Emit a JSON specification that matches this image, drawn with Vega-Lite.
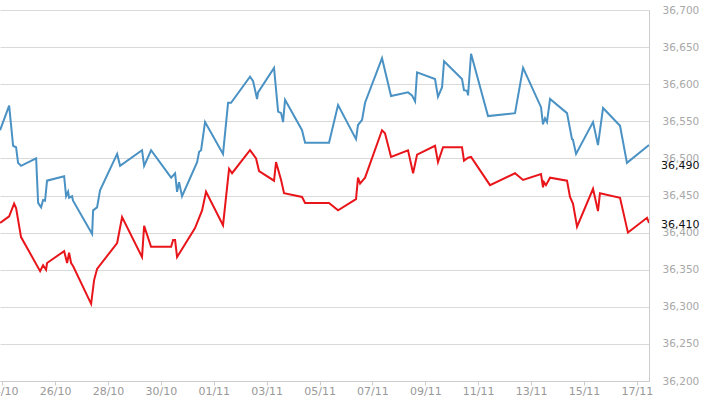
{
  "$schema": "https://vega.github.io/schema/vega-lite/v6.json",
  "width": 649,
  "height": 371,
  "autosize": {"type": "none"},
  "padding": {"left": 0, "top": 10, "right": 57, "bottom": 16},
  "background": "white",
  "config": {"view": {"stroke": null}, "font": "DejaVu Sans"},
  "datasets": {
    "prices": [
      {"time": "2023-10-23T22:06", "value": 36538, "series": "Series A"},
      {"time": "2023-10-24T06:18", "value": 36571, "series": "Series A"},
      {"time": "2023-10-24T09:54", "value": 36517, "series": "Series A"},
      {"time": "2023-10-24T12:36", "value": 36515, "series": "Series A"},
      {"time": "2023-10-24T14:24", "value": 36494, "series": "Series A"},
      {"time": "2023-10-24T17:06", "value": 36490, "series": "Series A"},
      {"time": "2023-10-25T06:48", "value": 36500, "series": "Series A"},
      {"time": "2023-10-25T08:36", "value": 36440, "series": "Series A"},
      {"time": "2023-10-25T11:18", "value": 36434, "series": "Series A"},
      {"time": "2023-10-25T13:06", "value": 36444, "series": "Series A"},
      {"time": "2023-10-25T14:54", "value": 36443, "series": "Series A"},
      {"time": "2023-10-25T16:42", "value": 36470, "series": "Series A"},
      {"time": "2023-10-26T08:12", "value": 36476, "series": "Series A"},
      {"time": "2023-10-26T10:00", "value": 36449, "series": "Series A"},
      {"time": "2023-10-26T11:48", "value": 36455, "series": "Series A"},
      {"time": "2023-10-26T12:42", "value": 36447, "series": "Series A"},
      {"time": "2023-10-26T15:24", "value": 36449, "series": "Series A"},
      {"time": "2023-10-26T16:18", "value": 36443, "series": "Series A"},
      {"time": "2023-10-27T09:36", "value": 36398, "series": "Series A"},
      {"time": "2023-10-27T10:30", "value": 36430, "series": "Series A"},
      {"time": "2023-10-27T14:06", "value": 36434, "series": "Series A"},
      {"time": "2023-10-27T16:48", "value": 36457, "series": "Series A"},
      {"time": "2023-10-28T08:18", "value": 36506, "series": "Series A"},
      {"time": "2023-10-28T11:00", "value": 36490, "series": "Series A"},
      {"time": "2023-10-29T06:54", "value": 36511, "series": "Series A"},
      {"time": "2023-10-29T08:48", "value": 36490, "series": "Series A"},
      {"time": "2023-10-29T15:06", "value": 36511, "series": "Series A"},
      {"time": "2023-10-30T09:18", "value": 36474, "series": "Series A"},
      {"time": "2023-10-30T12:54", "value": 36480, "series": "Series A"},
      {"time": "2023-10-30T14:42", "value": 36455, "series": "Series A"},
      {"time": "2023-10-30T16:30", "value": 36468, "series": "Series A"},
      {"time": "2023-10-30T19:12", "value": 36449, "series": "Series A"},
      {"time": "2023-10-31T08:54", "value": 36495, "series": "Series A"},
      {"time": "2023-10-31T10:42", "value": 36509, "series": "Series A"},
      {"time": "2023-10-31T12:30", "value": 36511, "series": "Series A"},
      {"time": "2023-10-31T16:06", "value": 36549, "series": "Series A"},
      {"time": "2023-11-01T08:24", "value": 36506, "series": "Series A"},
      {"time": "2023-11-01T13:00", "value": 36575, "series": "Series A"},
      {"time": "2023-11-01T15:42", "value": 36575, "series": "Series A"},
      {"time": "2023-11-02T08:54", "value": 36610, "series": "Series A"},
      {"time": "2023-11-02T11:42", "value": 36604, "series": "Series A"},
      {"time": "2023-11-02T15:18", "value": 36580, "series": "Series A"},
      {"time": "2023-11-02T16:12", "value": 36589, "series": "Series A"},
      {"time": "2023-11-03T06:42", "value": 36622, "series": "Series A"},
      {"time": "2023-11-03T10:24", "value": 36563, "series": "Series A"},
      {"time": "2023-11-03T13:06", "value": 36561, "series": "Series A"},
      {"time": "2023-11-03T14:54", "value": 36549, "series": "Series A"},
      {"time": "2023-11-03T16:42", "value": 36579, "series": "Series A"},
      {"time": "2023-11-04T08:06", "value": 36538, "series": "Series A"},
      {"time": "2023-11-04T10:54", "value": 36521, "series": "Series A"},
      {"time": "2023-11-05T08:36", "value": 36521, "series": "Series A"},
      {"time": "2023-11-05T16:48", "value": 36572, "series": "Series A"},
      {"time": "2023-11-06T09:06", "value": 36526, "series": "Series A"},
      {"time": "2023-11-06T10:54", "value": 36545, "series": "Series A"},
      {"time": "2023-11-06T14:36", "value": 36552, "series": "Series A"},
      {"time": "2023-11-06T17:18", "value": 36575, "series": "Series A"},
      {"time": "2023-11-07T08:42", "value": 36635, "series": "Series A"},
      {"time": "2023-11-07T16:54", "value": 36584, "series": "Series A"},
      {"time": "2023-11-08T08:18", "value": 36589, "series": "Series A"},
      {"time": "2023-11-08T11:54", "value": 36585, "series": "Series A"},
      {"time": "2023-11-08T14:42", "value": 36577, "series": "Series A"},
      {"time": "2023-11-08T16:30", "value": 36616, "series": "Series A"},
      {"time": "2023-11-09T08:48", "value": 36607, "series": "Series A"},
      {"time": "2023-11-09T11:30", "value": 36583, "series": "Series A"},
      {"time": "2023-11-09T15:12", "value": 36596, "series": "Series A"},
      {"time": "2023-11-09T17:00", "value": 36631, "series": "Series A"},
      {"time": "2023-11-10T09:18", "value": 36607, "series": "Series A"},
      {"time": "2023-11-10T11:06", "value": 36592, "series": "Series A"},
      {"time": "2023-11-10T13:48", "value": 36591, "series": "Series A"},
      {"time": "2023-11-10T14:48", "value": 36585, "series": "Series A"},
      {"time": "2023-11-10T17:30", "value": 36641, "series": "Series A"},
      {"time": "2023-11-11T08:54", "value": 36557, "series": "Series A"},
      {"time": "2023-11-12T09:24", "value": 36561, "series": "Series A"},
      {"time": "2023-11-12T16:42", "value": 36622, "series": "Series A"},
      {"time": "2023-11-13T09:00", "value": 36569, "series": "Series A"},
      {"time": "2023-11-13T10:48", "value": 36546, "series": "Series A"},
      {"time": "2023-11-13T12:36", "value": 36554, "series": "Series A"},
      {"time": "2023-11-13T14:24", "value": 36549, "series": "Series A"},
      {"time": "2023-11-13T17:12", "value": 36580, "series": "Series A"},
      {"time": "2023-11-14T08:36", "value": 36561, "series": "Series A"},
      {"time": "2023-11-14T13:06", "value": 36526, "series": "Series A"},
      {"time": "2023-11-14T14:00", "value": 36525, "series": "Series A"},
      {"time": "2023-11-14T16:48", "value": 36506, "series": "Series A"},
      {"time": "2023-11-15T08:12", "value": 36549, "series": "Series A"},
      {"time": "2023-11-15T12:42", "value": 36518, "series": "Series A"},
      {"time": "2023-11-15T17:18", "value": 36568, "series": "Series A"},
      {"time": "2023-11-16T08:42", "value": 36544, "series": "Series A"},
      {"time": "2023-11-16T15:00", "value": 36494, "series": "Series A"},
      {"time": "2023-11-17T11:00", "value": 36518, "series": "Series A"},
      {"time": "2023-10-23T22:06", "value": 36413, "series": "Series B"},
      {"time": "2023-10-24T06:18", "value": 36422, "series": "Series B"},
      {"time": "2023-10-24T10:48", "value": 36439, "series": "Series B"},
      {"time": "2023-10-24T12:36", "value": 36433, "series": "Series B"},
      {"time": "2023-10-24T17:06", "value": 36394, "series": "Series B"},
      {"time": "2023-10-25T10:24", "value": 36348, "series": "Series B"},
      {"time": "2023-10-25T13:06", "value": 36356, "series": "Series B"},
      {"time": "2023-10-25T15:48", "value": 36350, "series": "Series B"},
      {"time": "2023-10-25T16:42", "value": 36359, "series": "Series B"},
      {"time": "2023-10-26T08:12", "value": 36375, "series": "Series B"},
      {"time": "2023-10-26T10:54", "value": 36359, "series": "Series B"},
      {"time": "2023-10-26T12:42", "value": 36373, "series": "Series B"},
      {"time": "2023-10-26T14:30", "value": 36359, "series": "Series B"},
      {"time": "2023-10-26T16:18", "value": 36355, "series": "Series B"},
      {"time": "2023-10-27T08:42", "value": 36304, "series": "Series B"},
      {"time": "2023-10-27T11:24", "value": 36336, "series": "Series B"},
      {"time": "2023-10-27T14:06", "value": 36351, "series": "Series B"},
      {"time": "2023-10-28T08:18", "value": 36386, "series": "Series B"},
      {"time": "2023-10-28T12:48", "value": 36421, "series": "Series B"},
      {"time": "2023-10-29T06:54", "value": 36367, "series": "Series B"},
      {"time": "2023-10-29T08:48", "value": 36409, "series": "Series B"},
      {"time": "2023-10-29T15:06", "value": 36381, "series": "Series B"},
      {"time": "2023-10-30T09:18", "value": 36381, "series": "Series B"},
      {"time": "2023-10-30T11:06", "value": 36390, "series": "Series B"},
      {"time": "2023-10-30T12:54", "value": 36390, "series": "Series B"},
      {"time": "2023-10-30T14:42", "value": 36367, "series": "Series B"},
      {"time": "2023-10-31T07:00", "value": 36406, "series": "Series B"},
      {"time": "2023-10-31T13:24", "value": 36430, "series": "Series B"},
      {"time": "2023-10-31T17:00", "value": 36455, "series": "Series B"},
      {"time": "2023-11-01T08:24", "value": 36410, "series": "Series B"},
      {"time": "2023-11-01T13:54", "value": 36486, "series": "Series B"},
      {"time": "2023-11-01T16:36", "value": 36480, "series": "Series B"},
      {"time": "2023-11-02T08:54", "value": 36511, "series": "Series B"},
      {"time": "2023-11-02T14:24", "value": 36500, "series": "Series B"},
      {"time": "2023-11-02T17:06", "value": 36483, "series": "Series B"},
      {"time": "2023-11-03T06:42", "value": 36470, "series": "Series B"},
      {"time": "2023-11-03T08:30", "value": 36495, "series": "Series B"},
      {"time": "2023-11-03T13:06", "value": 36471, "series": "Series B"},
      {"time": "2023-11-03T15:48", "value": 36453, "series": "Series B"},
      {"time": "2023-11-04T08:06", "value": 36448, "series": "Series B"},
      {"time": "2023-11-04T10:54", "value": 36440, "series": "Series B"},
      {"time": "2023-11-05T08:36", "value": 36440, "series": "Series B"},
      {"time": "2023-11-05T16:48", "value": 36430, "series": "Series B"},
      {"time": "2023-11-06T09:06", "value": 36445, "series": "Series B"},
      {"time": "2023-11-06T10:54", "value": 36474, "series": "Series B"},
      {"time": "2023-11-06T12:48", "value": 36466, "series": "Series B"},
      {"time": "2023-11-06T17:18", "value": 36474, "series": "Series B"},
      {"time": "2023-11-07T08:42", "value": 36538, "series": "Series B"},
      {"time": "2023-11-07T11:24", "value": 36534, "series": "Series B"},
      {"time": "2023-11-07T16:54", "value": 36502, "series": "Series B"},
      {"time": "2023-11-08T08:18", "value": 36511, "series": "Series B"},
      {"time": "2023-11-08T12:54", "value": 36480, "series": "Series B"},
      {"time": "2023-11-08T16:30", "value": 36505, "series": "Series B"},
      {"time": "2023-11-09T08:48", "value": 36517, "series": "Series B"},
      {"time": "2023-11-09T11:30", "value": 36495, "series": "Series B"},
      {"time": "2023-11-09T16:06", "value": 36515, "series": "Series B"},
      {"time": "2023-11-10T09:18", "value": 36515, "series": "Series B"},
      {"time": "2023-11-10T11:06", "value": 36497, "series": "Series B"},
      {"time": "2023-11-10T14:48", "value": 36501, "series": "Series B"},
      {"time": "2023-11-10T17:30", "value": 36502, "series": "Series B"},
      {"time": "2023-11-11T10:42", "value": 36464, "series": "Series B"},
      {"time": "2023-11-12T09:24", "value": 36480, "series": "Series B"},
      {"time": "2023-11-12T16:42", "value": 36471, "series": "Series B"},
      {"time": "2023-11-13T09:00", "value": 36479, "series": "Series B"},
      {"time": "2023-11-13T10:48", "value": 36461, "series": "Series B"},
      {"time": "2023-11-13T11:42", "value": 36468, "series": "Series B"},
      {"time": "2023-11-13T13:30", "value": 36464, "series": "Series B"},
      {"time": "2023-11-13T17:12", "value": 36474, "series": "Series B"},
      {"time": "2023-11-14T08:36", "value": 36470, "series": "Series B"},
      {"time": "2023-11-14T11:18", "value": 36448, "series": "Series B"},
      {"time": "2023-11-14T14:00", "value": 36439, "series": "Series B"},
      {"time": "2023-11-14T17:42", "value": 36408, "series": "Series B"},
      {"time": "2023-11-15T08:12", "value": 36459, "series": "Series B"},
      {"time": "2023-11-15T12:42", "value": 36429, "series": "Series B"},
      {"time": "2023-11-15T14:30", "value": 36453, "series": "Series B"},
      {"time": "2023-11-16T08:42", "value": 36447, "series": "Series B"},
      {"time": "2023-11-16T15:54", "value": 36400, "series": "Series B"},
      {"time": "2023-11-17T09:12", "value": 36420, "series": "Series B"},
      {"time": "2023-11-17T11:00", "value": 36413, "series": "Series B"}
    ],
    "current": [
      {"label": "36,490", "value": 36490},
      {"label": "36,410", "value": 36410}
    ]
  },
  "encoding": {
    "y": {
      "field": "value",
      "type": "quantitative",
      "scale": {"domain": [36200, 36700], "zero": false, "nice": false},
      "axis": {
        "orient": "right",
        "title": null,
        "values": [36200, 36250, 36300, 36350, 36400, 36450, 36500, 36550, 36600, 36650, 36700],
        "tickCount": 20,
        "format": ",.0f",
        "grid": true,
        "gridColor": "#d9d9d9",
        "domainColor": "#cccccc",
        "ticks": false,
        "labelPadding": 13,
        "labelColor": "#a8a8a8",
        "labelFontSize": 10.5,
        "labelFlush": false,
        "labelOverlap": false
      }
    }
  },
  "layer": [
    {
      "data": {"name": "prices"},
      "mark": {"type": "line", "strokeWidth": 2, "clip": true},
      "encoding": {
        "x": {
          "field": "time",
          "type": "temporal",
          "scale": {"domain": [
            {"year": 2023, "month": 10, "date": 23, "hours": 22},
            {"year": 2023, "month": 11, "date": 17, "hours": 11}
          ]},
          "axis": {
            "title": null,
            "grid": false,
            "format": "%d/%m",
            "tickCount": 30,
            "values": [
              {"year": 2023, "month": 10, "date": 24},
              {"year": 2023, "month": 10, "date": 26},
              {"year": 2023, "month": 10, "date": 28},
              {"year": 2023, "month": 10, "date": 30},
              {"year": 2023, "month": 11, "date": 1},
              {"year": 2023, "month": 11, "date": 3},
              {"year": 2023, "month": 11, "date": 5},
              {"year": 2023, "month": 11, "date": 7},
              {"year": 2023, "month": 11, "date": 9},
              {"year": 2023, "month": 11, "date": 11},
              {"year": 2023, "month": 11, "date": 13},
              {"year": 2023, "month": 11, "date": 15},
              {"year": 2023, "month": 11, "date": 17}
            ],
            "domainColor": "#cccccc",
            "tickColor": "#cccccc",
            "tickSize": 4,
            "labelPadding": 0,
            "labelColor": "#999999",
            "labelFontSize": 11,
            "labelFlush": false,
            "labelOverlap": false
          }
        },
        "color": {
          "field": "series",
          "type": "nominal",
          "scale": {"domain": ["Series A", "Series B"], "range": ["#4a92c4", "#e8161b"]},
          "legend": null
        }
      }
    },
    {
      "data": {"name": "current"},
      "mark": {"type": "text", "align": "left", "baseline": "middle", "dx": 12, "fontSize": 11, "color": "#111111"},
      "encoding": {
        "x": {"datum": {"year": 2023, "month": 11, "date": 17, "hours": 11}, "type": "temporal"},
        "text": {"field": "label"}
      }
    }
  ]
}
